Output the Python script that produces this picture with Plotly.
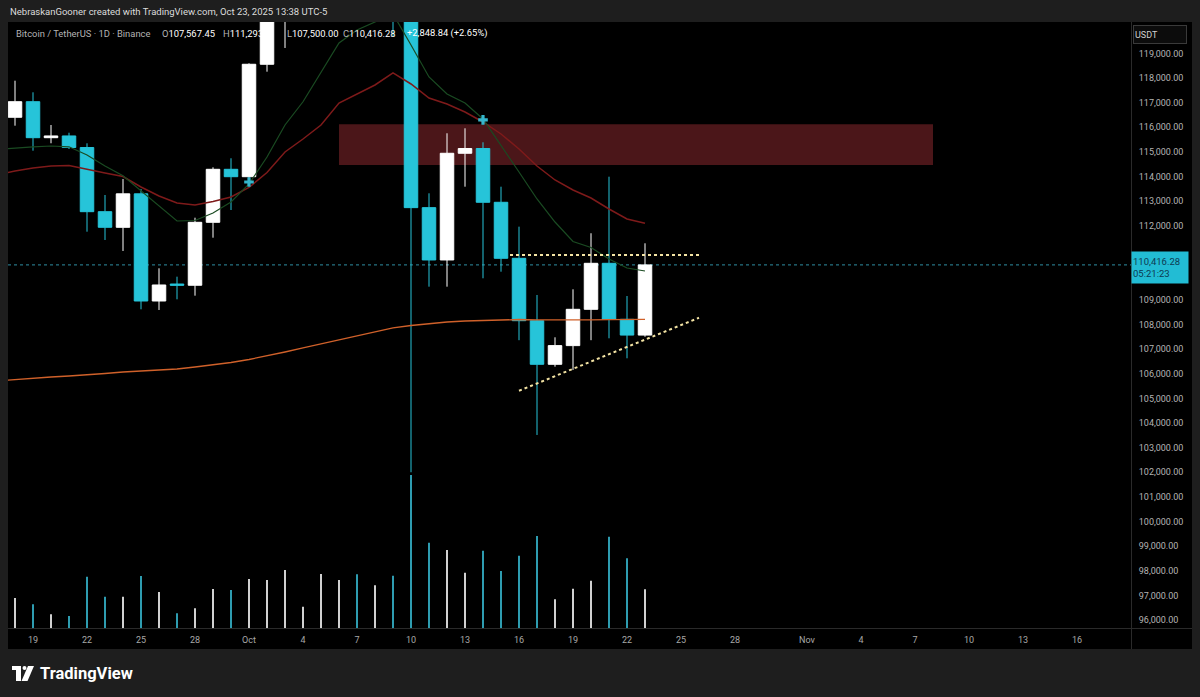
import plotly.graph_objects as go
import pandas as pd

# ---------------- data ----------------
dates = pd.date_range("2025-09-18", "2025-10-23", freq="D").strftime("%Y-%m-%d").tolist()

opens = [116407, 117040, 115579, 115650, 115180, 112576, 111942, 113300, 108951, 109640,
         109590, 112145, 114296, 113996, 118558, 120560, 122230, 122390, 123480, 124660,
         121330, 123310, 121660, 112740, 110616, 114946, 115140, 112957, 110684, 108152,
         106382, 107140, 108614, 110481, 108208, 107567.45]
highs = [117892, 117421, 116094, 115780, 115351, 113253, 113903, 113497, 110278, 109938,
         112332, 114377, 114743, 118598, 121000, 123900, 122900, 125700, 126200, 125130,
         124200, 123760, 122550, 113322, 115758, 115960, 115392, 113590, 111968, 109195,
         107478, 109426, 111700, 113996, 109154, 111293]
lows = [116066, 115051, 115352, 115120, 111764, 111427, 110981, 108614, 108586, 109020,
        109167, 111520, 112644, 113862, 118257, 119220, 121000, 122100, 123080, 120570,
        121070, 119680, 102000, 109532, 109532, 113590, 109873, 110140, 107360, 103514,
        106285, 106151, 107360, 107437, 106626, 107500]
closes = [117040, 115579, 115650, 115180, 112576, 111942, 113300, 108951, 109601, 109590,
          112145, 114296, 113996, 118558, 120560, 122230, 122390, 123480, 124660, 121330,
          123310, 121660, 112740, 110616, 114946, 115140, 112957, 110684, 108152, 106382,
          107140, 108614, 110481, 108208, 107567.45, 110416.28]
volumes_k = [12.0, 9.5, 5.5, 4.8, 20.5, 12.5, 12.5, 20.8, 14.4, 5.9, 7.9, 15.6, 15.2,
             19.6, 19.2, 23.2, 8.5, 21.6, 19.2, 21.5, 17.1, 20.9, 61.2, 34.1, 31.2, 22.1,
             30.9, 22.8, 28.9, 36.8, 11.5, 15.7, 18.9, 36.5, 27.9, 15.5]

ma_dates = pd.date_range("2025-09-17", "2025-10-23", freq="D").strftime("%Y-%m-%d").tolist()
ema_fast = [115100, 115169, 115209, 115242, 115209, 114877, 114430, 114037, 113436, 112827,
            112198, 112218, 112523, 112969, 113700, 114795, 116094, 117036, 118245, 119422,
            119950, 120274, 120600, 119341, 118042, 117352, 116987, 116338, 115282, 114187,
            113091, 112157, 111366, 111122, 110656, 110291, 110169]
ema_mid = [114065, 114227, 114349, 114430, 114450, 114288, 114146, 114004, 113578, 113213,
           112929, 112847, 112989, 113172, 113558, 114166, 114998, 115526, 116094, 116987,
           117352, 117718, 118205, 117758, 117190, 116946, 116622, 116216, 115729, 115120,
           114430, 113862, 113456, 113131, 112685, 112279, 112105]
ema_slow = [105705, 105765, 105826, 105867, 105907, 105948, 106009, 106070, 106110, 106151,
            106192, 106273, 106354, 106455, 106577, 106719, 106881, 107044, 107206, 107389,
            107551, 107714, 107856, 107957, 108038, 108099, 108140, 108168, 108192, 108200,
            108188, 108180, 108180, 108188, 108196, 108205, 108209]

cross_dates = ["2025-10-01", "2025-10-14"]
cross_prices = [113780, 116300]

zone_dates = ["2025-10-06", "2025-11-08"]
zone_prices = [114470, 116120]

resistance_dates = ["2025-10-15 12:00", "2025-10-26"]
resistance_prices = [110820, 110820]
support_dates = ["2025-10-16", "2025-10-26"]
support_prices = [105310, 108270]

price_ticks = list(range(96000, 119001, 1000))
date_ticks = ["2025-09-19", "2025-09-22", "2025-09-25", "2025-09-28", "2025-10-01",
              "2025-10-04", "2025-10-07", "2025-10-10", "2025-10-13", "2025-10-16",
              "2025-10-19", "2025-10-22", "2025-10-25", "2025-10-28", "2025-11-01",
              "2025-11-04", "2025-11-07", "2025-11-10", "2025-11-13", "2025-11-16"]
date_labels = ["19", "22", "25", "28", "Oct", "4", "7", "10", "13", "16", "19", "22",
               "25", "28", "Nov", "4", "7", "10", "13", "16"]

# ---------------- style ----------------
FONT = "Roboto"
UP = "#ffffff"
DOWN = "#26c4d9"
VOL_UP = "#d0d0d0"
VOL_DOWN = "#2e9cb0"

W, H = 1200, 697
PL, PR, PT, PB = 8, 1131, 22, 628
YMIN, YMAX = 95680, 120274


def px(x):
    return (x - PL) / (PR - PL)


def py(y):
    return (PB - y) / (PB - PT)


fig = go.Figure()

fig.add_trace(go.Candlestick(
    x=dates, open=opens, high=highs, low=lows, close=closes,
    increasing=dict(fillcolor=UP, line=dict(color=UP, width=1)),
    decreasing=dict(fillcolor=DOWN, line=dict(color=DOWN, width=1)),
    whiskerwidth=0, hoverinfo="skip",
))

fig.add_trace(go.Scatter(x=ma_dates, y=ema_slow, mode="lines",
                         line=dict(color="#d0612a", width=1.3), hoverinfo="skip"))
fig.add_trace(go.Scatter(x=ma_dates, y=ema_mid, mode="lines",
                         line=dict(color="#7e1a1a", width=1.5), hoverinfo="skip"))
fig.add_trace(go.Scatter(x=ma_dates, y=ema_fast, mode="lines",
                         line=dict(color="#1a4b22", width=1.2), hoverinfo="skip"))

fig.add_trace(go.Scatter(x=resistance_dates, y=resistance_prices, mode="lines",
                         line=dict(color="#f3e3a3", width=2, dash="dot"), hoverinfo="skip"))
fig.add_trace(go.Scatter(x=support_dates, y=support_prices, mode="lines",
                         line=dict(color="#f3e3a3", width=2, dash="dot"), hoverinfo="skip"))

fig.add_trace(go.Scatter(x=cross_dates, y=cross_prices, mode="markers",
                         marker=dict(symbol="cross", size=8, color="#35b6cc", line=dict(width=0)),
                         hoverinfo="skip"))

vol_colors = [VOL_UP if c >= o else VOL_DOWN for o, c in zip(opens, closes)]
fig.add_trace(go.Bar(x=dates, y=volumes_k, yaxis="y2", marker=dict(color=vol_colors, line=dict(width=0)),
                     width=2 / 18 * 86400000, hoverinfo="skip"))

shapes = [
    # chart panel
    dict(type="rect", xref="paper", yref="paper", x0=px(8), x1=px(1192), y0=py(649), y1=py(22),
         fillcolor="#000000", line=dict(width=0), layer="below"),
    # dividers
    dict(type="line", xref="paper", yref="paper", x0=px(1131.5), x1=px(1131.5), y0=py(649), y1=py(22),
         line=dict(color="#2a2a2a", width=1), layer="below"),
    dict(type="line", xref="paper", yref="paper", x0=px(8), x1=px(1192), y0=py(628.5), y1=py(628.5),
         line=dict(color="#2a2a2a", width=1), layer="below"),
    # resistance zone
    dict(type="rect", xref="x", yref="y", x0=zone_dates[0], x1=zone_dates[1],
         y0=zone_prices[0], y1=zone_prices[1], fillcolor="#4b1619", line=dict(width=0), layer="below"),
    # last price line
    dict(type="line", xref="paper", yref="y", x0=0, x1=1, y0=closes[-1], y1=closes[-1],
         line=dict(color="#2f8ea3", width=1, dash="dot"), layer="below"),
    # TradingView logo
    dict(type="rect", xref="paper", yref="paper", x0=px(12), x1=px(21), y0=py(670), y1=py(666),
         fillcolor="#ffffff", line=dict(width=0)),
    dict(type="rect", xref="paper", yref="paper", x0=px(16), x1=px(21), y0=py(681), y1=py(666),
         fillcolor="#ffffff", line=dict(width=0)),
    dict(type="circle", xref="paper", yref="paper", x0=px(22.5), x1=px(26.5), y0=py(670), y1=py(666),
         fillcolor="#ffffff", line=dict(width=0)),
    dict(type="path", xref="paper", yref="paper",
         path=f"M {px(28)} {py(666)} L {px(34)} {py(666)} L {px(27.5)} {py(681)} L {px(21.5)} {py(681)} Z",
         fillcolor="#ffffff", line=dict(width=0)),
]


def ann(x, y, text, size=10, color="#d8d8d8", xanchor="left", **kw):
    return dict(xref="paper", yref="paper", x=px(x), y=py(y), text=text, showarrow=False,
                xanchor=xanchor, yanchor="middle",
                font=dict(family=FONT, size=size, color=color), **kw)


G = "#b4b4b4"
LS = 9.4
annotations = [
    ann(8, 11, "NebraskanGooner created with TradingView.com, Oct 23, 2025 13:38 UTC-5", size=9.5,
        color="#dcdcdc"),
    ann(14, 33, "Bitcoin / TetherUS · 1D · Binance", size=LS, color=G),
    ann(160, 33, f"<span style='color:{G}'>O</span>107,567.45", size=LS, color="#ffffff"),
    ann(221, 33, f"<span style='color:{G}'>H</span>111,293", size=LS, color="#ffffff"),
    ann(285, 33, f"<span style='color:{G}'>L</span>107,500.00", size=LS, color="#ffffff"),
    ann(341, 33, f"<span style='color:{G}'>C</span>110,416.28", size=LS, color="#ffffff"),
    ann(405, 33, "+2,848.84 (+2.65%)", size=LS, color="#ffffff"),
    ann(1133, 34, "USDT", size=9, color="#d0d0d0", align="left", width=50, height=15,
        bordercolor="#3a3a3a", borderwidth=1, bgcolor="#0c0c0c", borderpad=1),
    ann(1131, 267, f"{closes[-1]:,.2f}<br>05:21:23", size=9.5, color="#0d3a52", align="left",
        width=54, height=29, bgcolor="#22bcd4", borderpad=1),
    ann(38, 673, "<b>TradingView</b>", size=16.5, color="#ffffff"),
]

# tick labels hidden behind the last-price label are not shown in the reference
label_half = (15 / (PB - PT)) * (YMAX - YMIN)
shown_ticks = [v for v in price_ticks if abs(v - closes[-1]) > label_half]

fig.update_layout(
    width=W, height=H,
    margin=dict(l=PL, r=W - PR, t=PT, b=H - PB),
    paper_bgcolor="#1e1e1e", plot_bgcolor="#000000",
    showlegend=False, hovermode=False,
    boxgap=0.25, boxgroupgap=0,
    xaxis=dict(type="date", range=["2025-09-17 14:40", "2025-11-19 00:00"],
               rangeslider=dict(visible=False), tickvals=date_ticks, ticktext=date_labels,
               showgrid=False, zeroline=False, showline=False,
               ticks="outside", ticklen=3, tickcolor="#000000",
               tickfont=dict(family=FONT, size=9, color="#a8a8a8")),
    yaxis=dict(side="right", range=[YMIN, YMAX], tickvals=shown_ticks,
               ticktext=[f"{v:,.2f}" for v in shown_ticks],
               showgrid=False, zeroline=False, showline=False,
               ticks="outside", ticklen=5, tickcolor="#000000",
               tickfont=dict(family=FONT, size=9, color="#b4b4b4")),
    yaxis2=dict(overlaying="y", range=[0, 242.4], visible=False, fixedrange=True),
    shapes=shapes, annotations=annotations,
)

fig.write_html("out.html", config={"displayModeBar": False},
               post_script="document.body.style.margin='0';document.body.style.overflow='hidden';"
                           "document.body.style.background='#1e1e1e';")
